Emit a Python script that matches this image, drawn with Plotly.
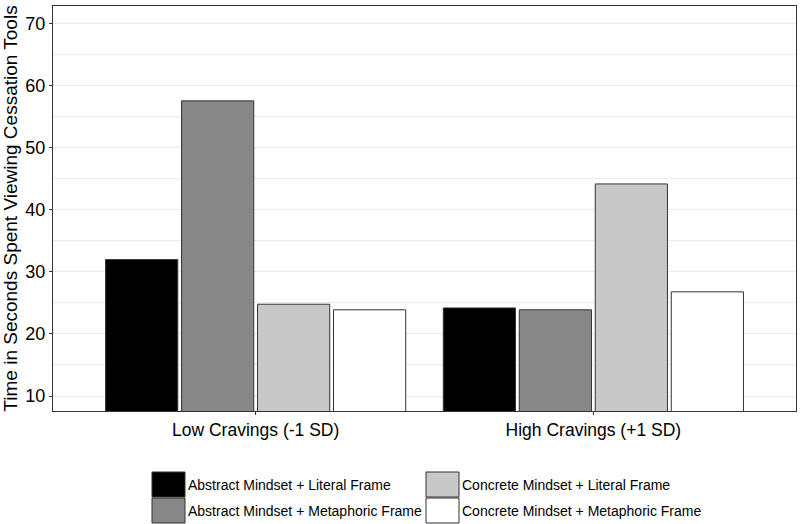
import plotly.graph_objects as go

categories = ["Low Cravings (-1 SD)", "High Cravings (+1 SD)"]
series_names = [
    "Abstract Mindset + Literal Frame",
    "Abstract Mindset + Metaphoric Frame",
    "Concrete Mindset + Literal Frame",
    "Concrete Mindset + Metaphoric Frame",
]
abstract_literal = [32.0, 24.2]
abstract_metaphoric = [57.6, 23.9]
concrete_literal = [24.8, 44.2]
concrete_metaphoric = [23.9, 26.8]
series_values = [abstract_literal, abstract_metaphoric, concrete_literal, concrete_metaphoric]
series_colors = ["#000000", "#878787", "#c8c8c8", "#ffffff"]
y_ticks = [10, 20, 30, 40, 50, 60, 70]

FONT = "Liberation Sans, Arial, sans-serif"
W, H = 800, 524
L, R, T, B = 53, 796, 6, 411  # plot area in pixels

fig = go.Figure()
for name, vals, col in zip(series_names, series_values, series_colors):
    fig.add_trace(go.Bar(
        x=categories, y=vals, name=name,
        marker=dict(color=col, line=dict(color="#333333", width=1)),
        showlegend=False,
    ))

# custom legend (large keys like the reference)
leg_pos = [(152, 472), (152, 498), (426, 472), (426, 498)]
SW, SH = 33, 25
pw, ph = R - L, B - T
for (px, py), name, col in zip(leg_pos, series_names, series_colors):
    fig.add_shape(type="rect", xref="paper", yref="paper",
                  x0=(px - L) / pw, x1=(px + SW - L) / pw,
                  y0=(B - (py + SH)) / ph, y1=(B - py) / ph,
                  fillcolor=col, line=dict(color="#333333", width=1))
    fig.add_annotation(xref="paper", yref="paper",
                       x=(px + SW + 1 - L) / pw, y=(B - (py + SH / 2)) / ph,
                       text=name, showarrow=False, xanchor="left", yanchor="middle",
                       font=dict(family=FONT, size=14, color="#000000"))

fig.update_layout(
    width=W, height=H,
    margin=dict(l=L, r=W - R, t=T, b=H - B, autoexpand=False),
    paper_bgcolor="white", plot_bgcolor="white",
    barmode="group", bargap=0.1, bargroupgap=0.05,
    font=dict(family=FONT, color="#000000"),
)
fig.update_xaxes(
    automargin=False, range=[-0.6, 1.6],
    showgrid=False, showline=True, linecolor="#333333", linewidth=1, mirror=True,
    ticks="outside", ticklen=3, tickcolor="#333333",
    tickfont=dict(family=FONT, size=17.5, color="#000000"),
)
fig.update_yaxes(
    automargin=False,
    range=[7.58, 72.9], tickvals=y_ticks,
    showgrid=True, gridcolor="#ebebeb", gridwidth=1,
    minor=dict(dtick=5, tick0=5, showgrid=True, gridcolor="#ebebeb", gridwidth=1),
    showline=True, linecolor="#333333", linewidth=1, mirror=True,
    ticks="outside", ticklen=3, tickcolor="#333333",
    tickfont=dict(family=FONT, size=18, color="#000000"),
    title=dict(text="Time in Seconds Spent Viewing Cessation Tools",
               font=dict(family=FONT, size=19, color="#000000"), standoff=4),
    zeroline=False,
)

fig.write_html("out.html", config={"displayModeBar": False},
               post_script="document.body.style.margin='0';")
